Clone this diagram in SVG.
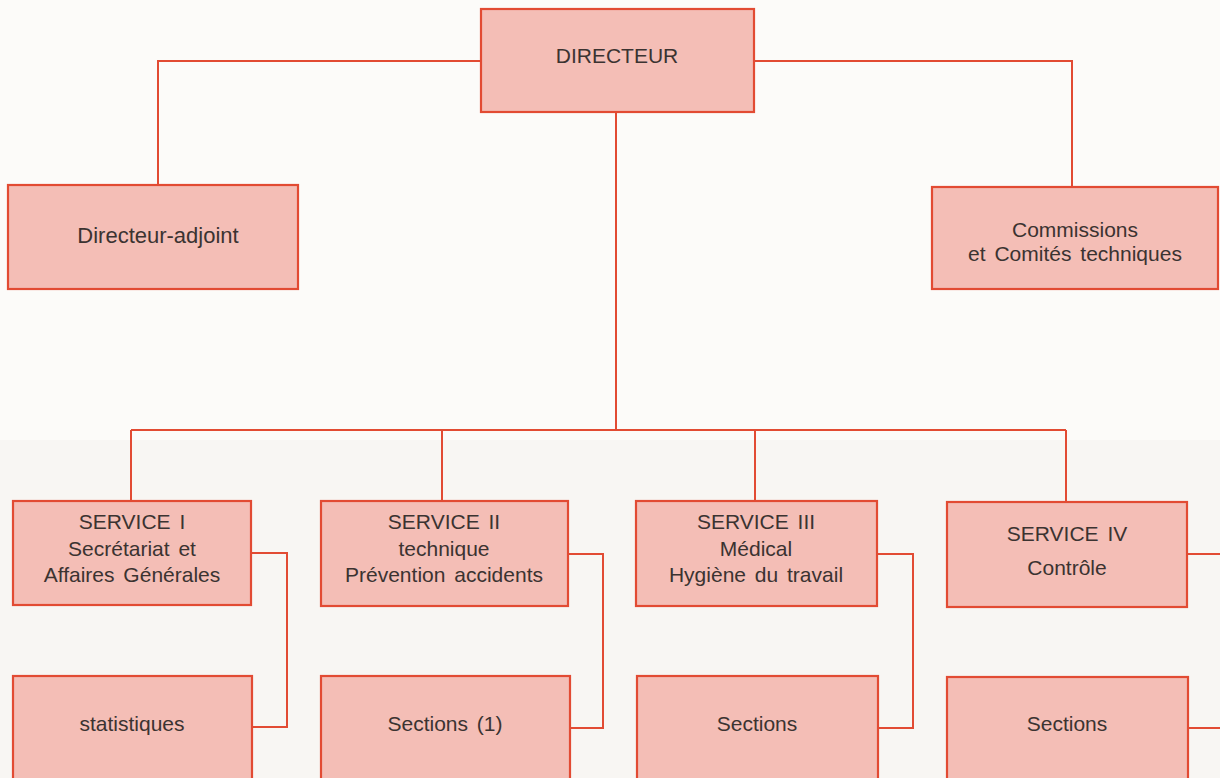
<svg xmlns="http://www.w3.org/2000/svg" width="1220" height="778" viewBox="0 0 1220 778">
<style>
.box{fill:#f4beb6;stroke:#e24b33;stroke-width:2.2}
.ln{fill:none;stroke:#e24b33;stroke-width:2}
text{font-family:"Liberation Sans",Arial,sans-serif;font-size:21px;fill:#3b3331;text-anchor:middle;word-spacing:3px}
</style>
<rect x="0" y="0" width="1220" height="778" fill="#fcfbf9"/>
<rect x="0" y="440" width="1220" height="338" fill="#f8f6f3"/>
<g id="connectors">
<path class="ln" d="M481 61 H158 V185"/>
<path class="ln" d="M754 61 H1072 V187"/>
<path class="ln" d="M616 112 V430"/>
<path class="ln" d="M131 430 H1066"/>
<path class="ln" d="M131 430 V501"/>
<path class="ln" d="M442 430 V501"/>
<path class="ln" d="M755 430 V501"/>
<path class="ln" d="M1066 430 V502"/>
<path class="ln" d="M251 553 H287 V727 H252"/>
<path class="ln" d="M568 554 H603 V728 H570"/>
<path class="ln" d="M877 554 H913 V728 H878"/>
<path class="ln" d="M1187 554 H1222"/>
<path class="ln" d="M1188 728 H1222"/>
</g>
<g id="directeur"><rect class="box" x="481" y="9" width="273" height="103"/><text x="617" y="63">DIRECTEUR</text></g>
<g id="directeur-adjoint"><rect class="box" x="8" y="185" width="290" height="104"/><text x="158" y="243" style="font-size:22px">Directeur-adjoint</text></g>
<g id="commissions"><rect class="box" x="932" y="187" width="286" height="102"/><text x="1075" y="237">Commissions</text><text x="1075" y="261">et Comités techniques</text></g>
<g id="service1"><rect class="box" x="13" y="501" width="238" height="104"/><text x="132" y="529">SERVICE I</text><text x="132" y="556">Secrétariat et</text><text x="132" y="582">Affaires Générales</text></g>
<g id="service2"><rect class="box" x="321" y="501" width="247" height="105"/><text x="444" y="529">SERVICE II</text><text x="444" y="556">technique</text><text x="444" y="582">Prévention accidents</text></g>
<g id="service3"><rect class="box" x="636" y="501" width="241" height="105"/><text x="756" y="529">SERVICE III</text><text x="756" y="556">Médical</text><text x="756" y="582">Hygiène du travail</text></g>
<g id="service4"><rect class="box" x="947" y="502" width="240" height="105"/><text x="1067" y="541">SERVICE IV</text><text x="1067" y="575">Contrôle</text></g>
<g id="statistiques"><rect class="box" x="13" y="676" width="239" height="120"/><text x="132" y="731">statistiques</text></g>
<g id="sections1"><rect class="box" x="321" y="676" width="249" height="120"/><text x="445" y="731">Sections (1)</text></g>
<g id="sections3"><rect class="box" x="637" y="676" width="241" height="120"/><text x="757" y="731">Sections</text></g>
<g id="sections4"><rect class="box" x="947" y="677" width="241" height="120"/><text x="1067" y="731">Sections</text></g>
</svg>
